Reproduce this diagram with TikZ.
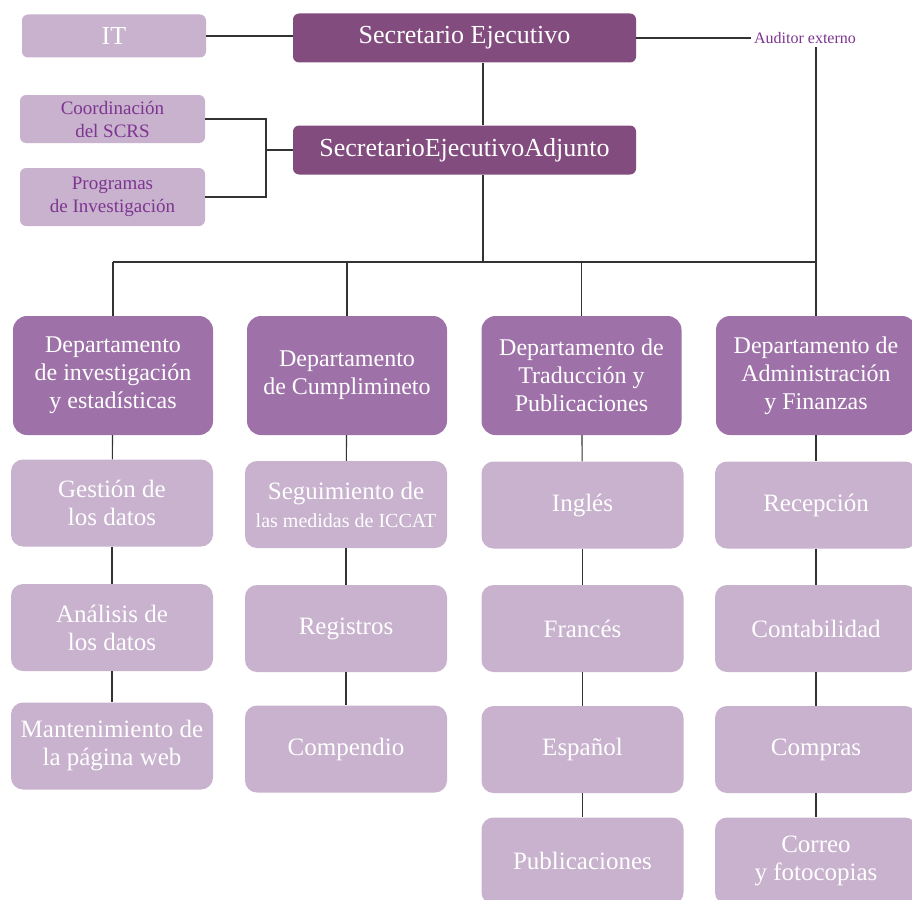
\documentclass[tikz,border=0pt]{standalone}
\usepackage{fontspec}
\setmainfont{Liberation Serif}
\usetikzlibrary{calc}
\definecolor{chieffill}{HTML}{834C7E}
\definecolor{deptfill}{HTML}{9E72A8}
\definecolor{unitfill}{HTML}{C8B2CE}
\definecolor{sidetext}{HTML}{7D3590}
\definecolor{linegray}{HTML}{333333}
\tikzstyle{box}=[rectangle, rounded corners=6pt, inner sep=0pt, align=center, text=white, anchor=center]
\tikzstyle{chief}=[box, fill=chieffill, minimum width=343pt, minimum height=49pt, font=\fontsize{26}{30}\selectfont]
\tikzstyle{side}=[box, fill=unitfill, minimum width=185pt, text=sidetext, font=\fontsize{19}{23}\selectfont]
\tikzstyle{dept}=[box, fill=deptfill, rounded corners=14pt, minimum width=200pt, minimum height=119pt, font=\fontsize{24}{28}\selectfont]
\tikzstyle{unit}=[box, fill=unitfill, rounded corners=12pt, minimum width=202pt, minimum height=87pt, font=\fontsize{25}{28}\selectfont]
\tikzstyle{link}=[draw=linegray, line width=1.1pt]

\begin{document}
\begin{tikzpicture}[x=1pt, y=-1pt]
	\useasboundingbox (0,0) rectangle (912,899);

	% top of the chart
	\node[box, fill=unitfill, minimum width=184pt, minimum height=43pt, font=\fontsize{26}{30}\selectfont](it) at (114,36){IT};
	\node[chief](sec) at (464.5,38){Secretario Ejecutivo};
	\node[chief](adj) at (464.5,150){SecretarioEjecutivoAdjunto};
	\node[side, minimum height=48pt](coord) at (112.5,119){Coordinación\\del SCRS};
	\node[side, minimum height=58pt](prog) at (112.5,197){Programas\\de Investigación};
	\node[text=sidetext, font=\fontsize{16}{19}\selectfont](aud) at (805,38){Auditor externo};

	\coordinate (bus) at (483,262);
	\coordinate (brk) at (266,150);

	% departments
	\node[dept](d1) at (113,375.5){Departamento\\de investigación\\y estadísticas};
	\node[dept](d2) at (347,375.5){Departamento\\de Cumplimineto};
	\node[dept](d3) at (581.5,375.5){Departamento de\\Traducción y\\Publicaciones};
	\node[dept](d4) at (816,375.5){Departamento de\\Administración\\y Finanzas};

	% units
	\node[unit](g1) at (112,503){Gestión de\\los datos};
	\node[unit](g2) at (112,627.5){Análisis de\\los datos};
	\node[unit](g3) at (112,746){Mantenimiento de\\la página web};

	\node[unit](c1) at (346,504.5){Seguimiento de\\{\fontsize{20}{24}\selectfont las medidas de ICCAT}};
	\node[unit](c2) at (346,628.5){Registros};
	\node[unit](c3) at (346,749){Compendio};

	\node[unit](t1) at (582.5,505){Inglés};
	\node[unit](t2) at (582.5,628.5){Francés};
	\node[unit](t3) at (582.5,749.5){Español};
	\node[unit](t4) at (582.5,861){Publicaciones};

	\node[unit](a1) at (816,505){Recepción};
	\node[unit](a2) at (816,628.5){Contabilidad};
	\node[unit](a3) at (816,749.5){Compras};
	\node[unit](a4) at (816,861){Correo\\y fotocopias};

	% connectors
	\draw[link] (it.east) -- (it.east -| sec.west);
	\draw[link] (sec) -- (aud);
	\draw[link] (sec.south -| bus) -- (adj.north -| bus);
	\draw[link] (coord.east) -| (brk) |- (prog.east);
	\draw[link] (brk) -- (adj.west);
	\draw[link] (adj.south -| bus) -- (bus);
	\draw[link] (aud.south -| d4) -- (d4 |- bus);
	\draw[link] (d1 |- bus) -- (d4 |- bus);
	\draw[link] (d1) -- (d1 |- bus);
	\draw[link] (d2) -- (d2 |- bus);
	\draw[link] (d3) -- (d3 |- bus);
	\draw[link] (d4) -- (d4 |- bus);

	\draw[link] (d1) -- (g1);
	\draw[link] (g1) -- (g2);
	\draw[link] (g2) -- (g3);
	\draw[link] (d2) -- (c1);
	\draw[link] (c1) -- (c2);
	\draw[link] (c2) -- (c3);
	\draw[link] (d3) -- (t1);
	\draw[link] (t1) -- (t2);
	\draw[link] (t2) -- (t3);
	\draw[link] (t3) -- (t4);
	\draw[link] (d4) -- (a1);
	\draw[link] (a1) -- (a2);
	\draw[link] (a2) -- (a3);
	\draw[link] (a3) -- (a4);

\end{tikzpicture}
\end{document}
